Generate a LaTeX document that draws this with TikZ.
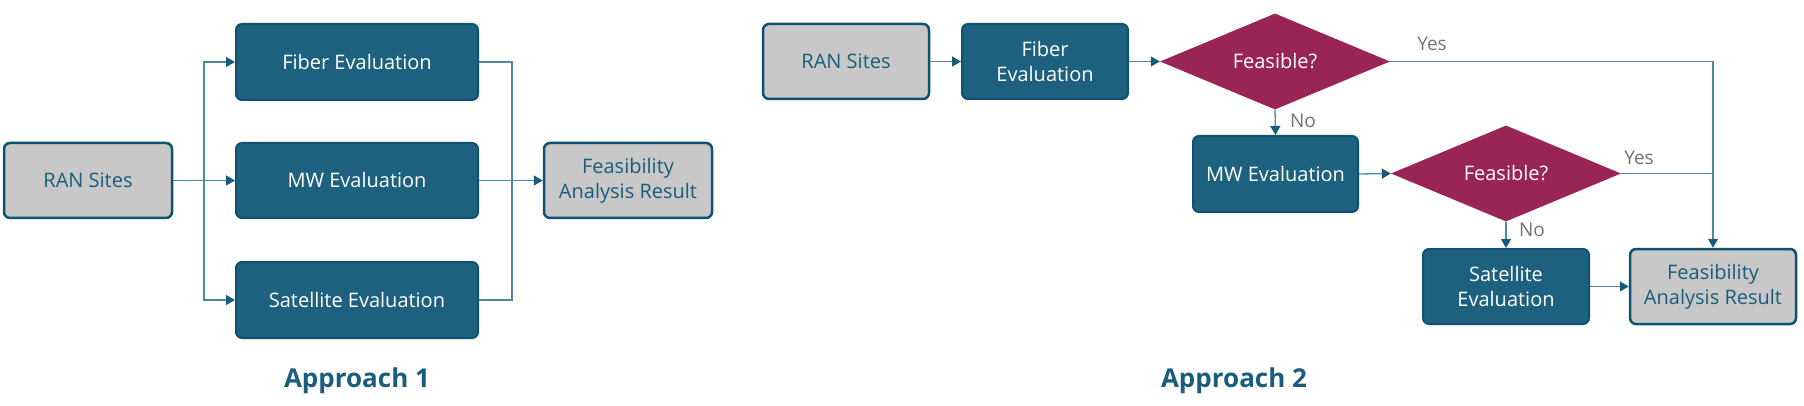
\documentclass[tikz,border=0pt]{standalone}
\usepackage{fontspec}
\setmainfont{Open Sans}
\usetikzlibrary{arrows.meta,shapes.geometric}
\definecolor{boxfill}{HTML}{1E617F}
\definecolor{boxline}{HTML}{0E5273}
\definecolor{grayfill}{HTML}{C8C8C8}
\definecolor{tealtext}{HTML}{1A5C7C}
\definecolor{diafill}{HTML}{992456}
\definecolor{conncol}{HTML}{4F88A6}
\definecolor{tipcol}{HTML}{185A7A}
\tikzset{
  base/.style={rounded corners=6pt, align=center, inner sep=2pt,
    font=\fontsize{20}{25}\selectfont},
  darkbox/.style={base, fill=boxfill, draw=boxline, line width=2pt, text=white},
  graybox/.style={base, fill=grayfill, draw=boxline, line width=2.5pt, text=tealtext},
  decision/.style={diamond, fill=diafill, draw=none, inner sep=0pt, aspect=2.38,
    minimum width=230pt, minimum height=96pt, text=white,
    font=\fontsize{20}{25}\selectfont},
  conn/.style={draw=conncol, line width=1.3pt},
  arr/.style={conn, -{Triangle[length=9pt,width=10pt,color=tipcol]}},
  yn/.style={text=black!55, font=\fontsize{19}{22}\selectfont, inner sep=0pt},
  heading/.style={text=tealtext, font=\fontsize{26}{30}\selectfont\bfseries}
}
\begin{document}
\begin{tikzpicture}[x=1pt,y=-1pt]
\useasboundingbox (0,0) rectangle (1804,406);
% ---------- Approach 1 ----------
\node[graybox, minimum width=168pt, minimum height=75pt] (ran1) at (88,180.5) {RAN Sites};
\node[darkbox, minimum width=242pt, minimum height=76pt] (fib1) at (357,62) {Fiber Evaluation};
\node[darkbox, minimum width=242pt, minimum height=75pt] (mw1) at (357,180.5) {MW Evaluation};
\node[darkbox, minimum width=242pt, minimum height=76pt] (sat1) at (357,300) {Satellite Evaluation};
\node[graybox, minimum width=168pt, minimum height=75pt] (res1) at (628,180.5) {Feasibility\\Analysis Result};
\coordinate (sp) at (204,180.5);
\coordinate (mg) at (512,180.5);
\draw[conn] (ran1.east) -- (sp);
\draw[arr] (sp) |- (fib1.west);
\draw[arr] (sp) -- (mw1.west);
\draw[arr] (sp) |- (sat1.west);
\draw[conn] (fib1.east) -| (mg);
\draw[conn] (sat1.east) -| (mg);
\draw[conn] (mw1.east) -- (mg);
\draw[arr] (mg) -- (res1.west);
\node[heading] (ap1) at (357,381) {Approach 1};
% ---------- Approach 2 ----------
\node[graybox, minimum width=166pt, minimum height=75pt] (ran2) at (846,61.5) {RAN Sites};
\node[darkbox, minimum width=166pt, minimum height=75pt] (fib2) at (1045,61.5) {Fiber\\Evaluation};
\node[decision] (d1) at (1275,61.5) {Feasible?};
\node[darkbox, minimum width=165pt, minimum height=76pt] (mw2) at (1275.5,174) {MW Evaluation};
\node[decision] (d2) at (1506,173.5) {Feasible?};
\node[darkbox, minimum width=166pt, minimum height=75pt] (sat2) at (1506,286.5) {Satellite\\Evaluation};
\node[graybox, minimum width=166pt, minimum height=75pt] (res2) at (1713,286.5) {Feasibility\\Analysis Result};
\coordinate (yc) at (1713,61.5);
\coordinate (yj) at (1713,173.5);
\draw[arr] (ran2.east) -- (fib2.west);
\draw[arr] (fib2.east) -- (d1.west);
\draw[conn] (d1.east) -- (yc);
\draw[arr] (yc) -- (res2.north);
\draw[conn] (d2.east) -- (yj);
\draw[arr] (d1.south) -- (mw2.north);
\draw[arr] (mw2.east) -- (d2.west);
\draw[arr] (d2.south) -- (sat2.north);
\draw[arr] (sat2.east) -- (res2.west);
\node[yn] (y1) at (1432,44) {Yes};
\node[yn] (n1) at (1303,121) {No};
\node[yn] (y2) at (1639,158) {Yes};
\node[yn] (n2) at (1532,230) {No};
\node[heading] (ap2) at (1234,381) {Approach 2};
\end{tikzpicture}
\end{document}
